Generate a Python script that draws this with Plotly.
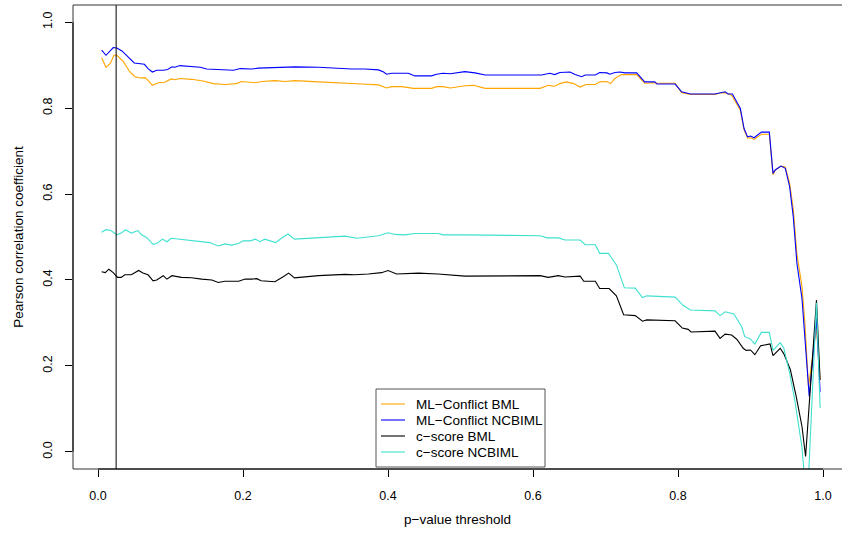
import plotly.graph_objects as go

# p-value thresholds and Pearson correlations for each method
x_ml_bml = [
    0.005, 0.011, 0.017, 0.022, 0.026, 0.035, 0.044, 0.051, 0.058, 0.065,
    0.070, 0.075, 0.083, 0.092, 0.101, 0.106, 0.113, 0.129, 0.145, 0.159,
    0.175, 0.191, 0.198, 0.217, 0.226, 0.244, 0.258, 0.272, 0.304, 0.341,
    0.364, 0.387, 0.398, 0.405, 0.419, 0.435, 0.460, 0.467, 0.476, 0.486,
    0.506, 0.518, 0.534, 0.610, 0.621, 0.630, 0.637, 0.646, 0.656, 0.665,
    0.673, 0.686, 0.692, 0.702, 0.707, 0.713, 0.722, 0.743, 0.754, 0.768,
    0.771, 0.796, 0.805, 0.817, 0.851, 0.858, 0.865, 0.874, 0.886, 0.891,
    0.896, 0.900, 0.905, 0.915, 0.926, 0.931, 0.934, 0.942, 0.948, 0.954,
    0.959, 0.964, 0.971, 0.975, 0.980, 0.991, 0.996,
]
y_ml_bml = [
    0.917, 0.895, 0.904, 0.923, 0.923, 0.908, 0.884, 0.873, 0.870, 0.871,
    0.863, 0.853, 0.859, 0.860, 0.868, 0.866, 0.869, 0.867, 0.863, 0.857,
    0.855, 0.857, 0.862, 0.859, 0.862, 0.864, 0.862, 0.864, 0.861, 0.857,
    0.856, 0.854, 0.847, 0.850, 0.850, 0.846, 0.846, 0.850, 0.850, 0.847,
    0.852, 0.853, 0.846, 0.846, 0.853, 0.851, 0.857, 0.861, 0.857, 0.849,
    0.855, 0.855, 0.861, 0.862, 0.857, 0.869, 0.878, 0.878, 0.858, 0.859,
    0.858, 0.858, 0.836, 0.832, 0.832, 0.835, 0.836, 0.830, 0.795, 0.750,
    0.730, 0.731, 0.727, 0.739, 0.739, 0.645, 0.655, 0.665, 0.663, 0.625,
    0.565, 0.460, 0.385, 0.300, 0.152, 0.290, 0.167,
]

x_ml_ncbiml = [
    0.005, 0.011, 0.021, 0.026, 0.033, 0.042, 0.050, 0.064, 0.069, 0.075,
    0.081, 0.090, 0.096, 0.102, 0.106, 0.113, 0.129, 0.141, 0.150, 0.166,
    0.187, 0.196, 0.212, 0.221, 0.244, 0.272, 0.304, 0.331, 0.350, 0.368,
    0.387, 0.394, 0.398, 0.405, 0.428, 0.437, 0.460, 0.467, 0.476, 0.486,
    0.506, 0.520, 0.534, 0.612, 0.623, 0.630, 0.637, 0.651, 0.658, 0.667,
    0.672, 0.686, 0.692, 0.702, 0.706, 0.713, 0.720, 0.727, 0.743, 0.754,
    0.768, 0.771, 0.796, 0.805, 0.817, 0.851, 0.858, 0.865, 0.869, 0.875,
    0.886, 0.891, 0.896, 0.900, 0.905, 0.915, 0.926, 0.931, 0.934, 0.942,
    0.948, 0.954, 0.959, 0.964, 0.971, 0.975, 0.981, 0.991, 0.996,
]
y_ml_ncbiml = [
    0.935, 0.923, 0.941, 0.940, 0.933, 0.917, 0.905, 0.902, 0.892, 0.884,
    0.888, 0.888, 0.890, 0.896, 0.895, 0.899, 0.897, 0.895, 0.891, 0.890,
    0.888, 0.892, 0.891, 0.893, 0.895, 0.896, 0.895, 0.892, 0.891, 0.891,
    0.889, 0.884, 0.879, 0.881, 0.881, 0.875, 0.875, 0.879, 0.881, 0.880,
    0.885, 0.882, 0.877, 0.877, 0.881, 0.878, 0.883, 0.884, 0.878, 0.873,
    0.877, 0.877, 0.883, 0.882, 0.879, 0.883, 0.884, 0.882, 0.882, 0.861,
    0.861, 0.856, 0.856, 0.838, 0.833, 0.833, 0.836, 0.838, 0.833, 0.833,
    0.799, 0.753, 0.733, 0.735, 0.731, 0.744, 0.744, 0.648, 0.656, 0.665,
    0.660, 0.617, 0.547, 0.439, 0.357, 0.268, 0.129, 0.310, 0.140,
]

x_cs_bml = [
    0.005, 0.010, 0.015, 0.021, 0.027, 0.032, 0.037, 0.046, 0.056, 0.062,
    0.069, 0.076, 0.081, 0.090, 0.095, 0.102, 0.115, 0.129, 0.143, 0.157,
    0.166, 0.175, 0.194, 0.203, 0.212, 0.219, 0.225, 0.244, 0.256, 0.263,
    0.271, 0.304, 0.341, 0.354, 0.373, 0.391, 0.400, 0.412, 0.442, 0.469,
    0.506, 0.610, 0.621, 0.635, 0.644, 0.665, 0.670, 0.686, 0.692, 0.705,
    0.715, 0.725, 0.741, 0.751, 0.757, 0.796, 0.806, 0.814, 0.818, 0.851,
    0.858, 0.865, 0.874, 0.881, 0.890, 0.894, 0.900, 0.906, 0.914, 0.927,
    0.931, 0.941, 0.946, 0.952, 0.955, 0.963, 0.971, 0.976, 0.991, 0.996,
]
y_cs_bml = [
    0.419, 0.417, 0.425, 0.417, 0.406, 0.406, 0.412, 0.412, 0.422, 0.416,
    0.412, 0.398, 0.400, 0.410, 0.402, 0.410, 0.406, 0.405, 0.402, 0.400,
    0.394, 0.397, 0.397, 0.402, 0.402, 0.403, 0.398, 0.396, 0.408, 0.416,
    0.405, 0.410, 0.413, 0.412, 0.414, 0.417, 0.422, 0.414, 0.416, 0.414,
    0.409, 0.410, 0.406, 0.410, 0.407, 0.409, 0.397, 0.397, 0.380, 0.380,
    0.363, 0.319, 0.317, 0.304, 0.307, 0.305, 0.288, 0.285, 0.279, 0.281,
    0.264, 0.274, 0.272, 0.262, 0.241, 0.236, 0.237, 0.226, 0.247, 0.251,
    0.224, 0.241, 0.228, 0.202, 0.191, 0.129, 0.059, -0.011, 0.353, 0.167,
]

x_cs_ncbiml = [
    0.005, 0.011, 0.018, 0.026, 0.032, 0.038, 0.046, 0.055, 0.060, 0.067,
    0.076, 0.081, 0.089, 0.095, 0.101, 0.111, 0.129, 0.138, 0.154, 0.166,
    0.175, 0.184, 0.194, 0.200, 0.210, 0.217, 0.223, 0.230, 0.237, 0.245,
    0.253, 0.262, 0.271, 0.304, 0.341, 0.357, 0.373, 0.387, 0.400, 0.410,
    0.423, 0.437, 0.469, 0.476, 0.506, 0.610, 0.619, 0.635, 0.644, 0.665,
    0.672, 0.686, 0.692, 0.704, 0.715, 0.726, 0.741, 0.751, 0.757, 0.796,
    0.807, 0.817, 0.851, 0.858, 0.865, 0.877, 0.888, 0.892, 0.899, 0.906,
    0.915, 0.926, 0.931, 0.934, 0.941, 0.946, 0.954, 0.961, 0.966, 0.971,
    0.976, 0.980, 0.991, 0.996,
]
y_cs_ncbiml = [
    0.511, 0.517, 0.515, 0.505, 0.509, 0.517, 0.509, 0.515, 0.505, 0.499,
    0.483, 0.485, 0.495, 0.489, 0.497, 0.495, 0.493, 0.491, 0.487, 0.479,
    0.484, 0.481, 0.485, 0.491, 0.491, 0.495, 0.489, 0.495, 0.491, 0.487,
    0.497, 0.507, 0.495, 0.499, 0.502, 0.497, 0.501, 0.503, 0.510, 0.506,
    0.505, 0.508, 0.508, 0.505, 0.505, 0.503, 0.498, 0.498, 0.493, 0.493,
    0.482, 0.482, 0.462, 0.462, 0.435, 0.382, 0.381, 0.359, 0.363, 0.360,
    0.341, 0.330, 0.328, 0.317, 0.326, 0.321, 0.291, 0.268, 0.264, 0.251,
    0.278, 0.278, 0.236, 0.241, 0.254, 0.241, 0.183, 0.121, 0.067, 0.010,
    -0.090, -0.060, 0.347, 0.102,
]

series_names = ["ML\u2212Conflict BML", "ML\u2212Conflict NCBIML",
                "c\u2212score BML", "c\u2212score NCBIML"]
series_colors = ["#FFA500", "#0000FF", "#000000", "#40E0D0"]
series_x = [x_ml_bml, x_ml_ncbiml, x_cs_bml, x_cs_ncbiml]
series_y = [y_ml_bml, y_ml_ncbiml, y_cs_bml, y_cs_ncbiml]

cutoff = 0.025
tick_vals = [0.0, 0.2, 0.4, 0.6, 0.8, 1.0]
tick_text = ["0.0", "0.2", "0.4", "0.6", "0.8", "1.0"]

W, H = 842, 535
ML, MR, MT, MB = 73, 0, 5, 66
PW, PH = W - ML - MR, H - MT - MB
FONT = "Liberation Sans, Arial, Helvetica, sans-serif"
TEXT_SIZE = 13.5


def px_x(px):
    return (px - ML) / PW


def px_y(py):
    return (H - MB - py) / PH


fig = go.Figure()
for xs, ys, name, col in zip(series_x, series_y, series_names, series_colors):
    assert len(xs) == len(ys)
    fig.add_trace(go.Scatter(x=xs, y=ys, mode="lines", name=name,
                             line=dict(color=col, width=1.1)))

shapes = [
    # vertical reference line at the chosen threshold
    dict(type="line", xref="x", yref="paper", x0=cutoff, x1=cutoff, y0=0, y1=1,
         line=dict(color="black", width=1)),
    # plot frame (right side falls outside the page)
    dict(type="rect", xref="paper", yref="paper", x0=0, x1=1.05, y0=0, y1=1,
         line=dict(color="#333333", width=1)),
    # axis lines spanning the tick range
    dict(type="line", xref="x", yref="paper", x0=0, x1=1, y0=0, y1=0,
         line=dict(color="black", width=1)),
    dict(type="line", xref="paper", yref="y", x0=0, x1=0, y0=0, y1=1,
         line=dict(color="black", width=1)),
]

# legend box in the lower middle of the plot
lg_left, lg_right, lg_top, lg_bottom = 376, 545, 389, 467
shapes.append(dict(type="rect", xref="paper", yref="paper",
                   x0=px_x(lg_left), x1=px_x(lg_right),
                   y0=px_y(lg_bottom), y1=px_y(lg_top),
                   line=dict(color="#555555", width=1), fillcolor="white",
                   layer="above"))
annotations = []
row_y = [404, 420, 436, 452]
for ry, name, col in zip(row_y, series_names, series_colors):
    shapes.append(dict(type="line", xref="paper", yref="paper",
                       x0=px_x(381), x1=px_x(405), y0=px_y(ry), y1=px_y(ry),
                       line=dict(color=col, width=1.1)))
    annotations.append(dict(xref="paper", yref="paper", x=px_x(414), y=px_y(ry),
                            text=name, showarrow=False, xanchor="left",
                            yanchor="middle",
                            font=dict(size=TEXT_SIZE, family=FONT,
                                      color="black")))

fig.update_layout(
    width=W, height=H,
    margin=dict(l=ML, r=MR, t=MT, b=MB, pad=0),
    paper_bgcolor="white", plot_bgcolor="white",
    showlegend=False,
    font=dict(family=FONT, size=12.5, color="black"),
    shapes=shapes,
    annotations=annotations,
    xaxis=dict(
        range=[(ML - 98) / 725, (W - 98) / 725],
        tickvals=tick_vals, ticktext=tick_text,
        ticks="outside", ticklen=7, tickcolor="black", tickwidth=1,
        ticklabelstandoff=8,
        showgrid=False, zeroline=False, showline=False,
        title=dict(text="p\u2212value threshold", standoff=12,
                   font=dict(size=TEXT_SIZE)),
    ),
    yaxis=dict(
        range=[-0.04, 1.04],
        tickvals=tick_vals, ticktext=tick_text, tickangle=-90,
        ticks="outside", ticklen=7, tickcolor="black", tickwidth=1,
        ticklabelstandoff=8,
        showgrid=False, zeroline=False, showline=False,
        title=dict(text="Pearson correlation coefficient", standoff=14,
                   font=dict(size=TEXT_SIZE)),
    ),
)

fig.write_html("out.html")
